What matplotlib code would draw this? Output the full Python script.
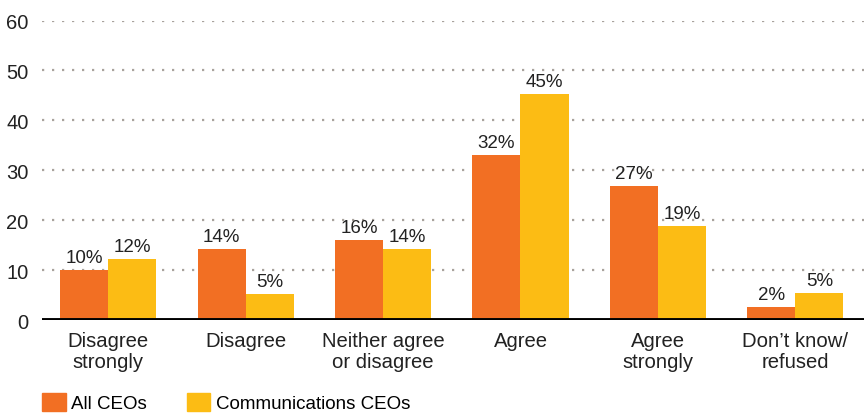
import numpy as np
import matplotlib.pyplot as plt
from matplotlib.patches import Patch

plt.rcParams['font.family'] = ['Liberation Sans', 'DejaVu Sans']

categories = ['Disagree\nstrongly', 'Disagree', 'Neither agree\nor disagree',
              'Agree', 'Agree\nstrongly', 'Don\u2019t know/\nrefused']
all_ceos = [10.0, 14.3, 16.1, 33.0, 26.9, 2.6]
comm_ceos = [12.3, 5.2, 14.3, 45.3, 18.9, 5.4]
all_labels = ['10%', '14%', '16%', '32%', '27%', '2%']
comm_labels = ['12%', '5%', '14%', '45%', '19%', '5%']
series_names = ['All CEOs', 'Communications CEOs']

orange = '#F26F23'
yellow = '#FCBC14'

fig = plt.figure(figsize=(8.64, 4.14), dpi=100)
ax = fig.add_axes([0.049, 0.224, 0.951, 0.724])

x = np.arange(len(categories))
w = 0.35
b1 = ax.bar(x - w / 2, all_ceos, w, color=orange, zorder=3)
b2 = ax.bar(x + w / 2, comm_ceos, w, color=yellow, zorder=3)

for bars, labs in [(b1, all_labels), (b2, comm_labels)]:
    for bar, lab in zip(bars, labs):
        ax.text(bar.get_x() + bar.get_width() / 2, bar.get_height() + 0.8, lab,
                ha='center', va='bottom', fontsize=13.5, color='#222222')

ax.set_xlim(-0.48, 5.5)
ax.set_ylim(0, 60)
ax.set_yticks(range(0, 61, 10))
ax.set_xticks(x)
ax.set_xticklabels(categories, fontsize=14.6, linespacing=1.1)
ax.tick_params(axis='both', length=0, colors='#222222')
ax.tick_params(axis='y', pad=10, labelsize=14.5)
ax.tick_params(axis='x', pad=8)

for s in ['top', 'right', 'left', 'bottom']:
    ax.spines[s].set_visible(False)
ax.grid(axis='y', color='#a8a29c', linestyle=(0, (1, 3.5)), linewidth=1.6, zorder=0)
ax.axhline(0, color='black', linewidth=2.8, zorder=4)

handles = [Patch(color=orange), Patch(color=yellow)]
fig.legend(handles, series_names, loc='center left', bbox_to_anchor=(0.049, 0.026),
           ncol=2, frameon=False, fontsize=13.5, handlelength=1.25, handleheight=1.1,
           handletextpad=0.3, columnspacing=2.1, borderaxespad=0, borderpad=0)

fig.savefig('out.png', dpi=100)
